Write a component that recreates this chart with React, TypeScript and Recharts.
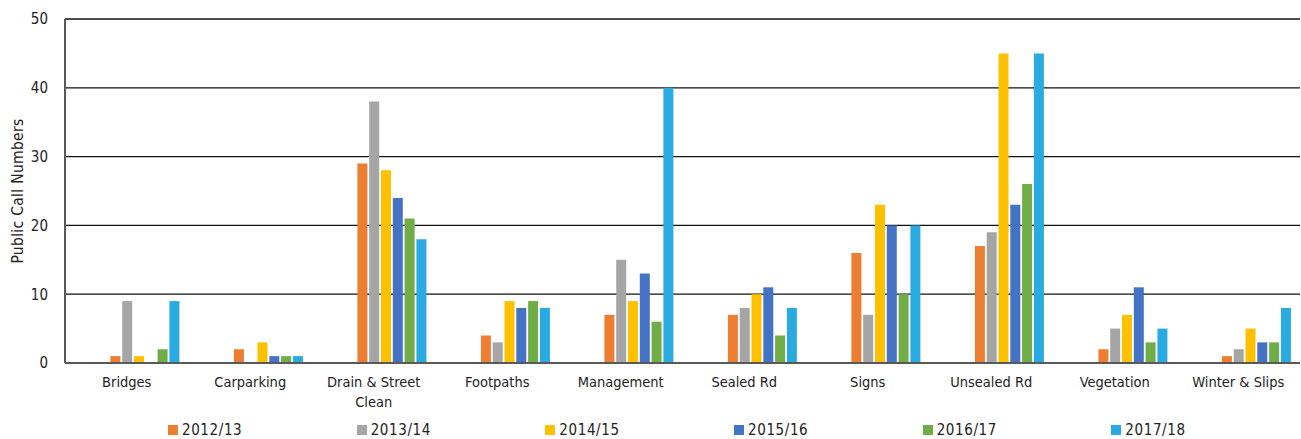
import { Bar, BarChart, CartesianGrid, Legend, XAxis, YAxis } from 'recharts'

const CATEGORIES = [
	'Bridges',
	'Carparking',
	'Drain & Street Clean',
	'Footpaths',
	'Management',
	'Sealed Rd',
	'Signs',
	'Unsealed Rd',
	'Vegetation',
	'Winter & Slips',
]

const Y2012 = [1, 2, 29, 4, 7, 7, 16, 17, 2, 1]
const Y2013 = [9, 0, 38, 3, 15, 8, 7, 19, 5, 2]
const Y2014 = [1, 3, 28, 9, 9, 10, 23, 45, 7, 5]
const Y2015 = [0, 1, 24, 8, 13, 11, 20, 23, 11, 3]
const Y2016 = [2, 1, 21, 9, 6, 4, 10, 26, 3, 3]
const Y2017 = [9, 1, 18, 8, 40, 8, 20, 45, 5, 8]

const Y_TICKS = [0, 10, 20, 30, 40, 50]

const SERIES = [
	{ key: '2012/13', values: Y2012, color: '#ED7D31' },
	{ key: '2013/14', values: Y2013, color: '#A5A5A5' },
	{ key: '2014/15', values: Y2014, color: '#FFC000' },
	{ key: '2015/16', values: Y2015, color: '#4472C4' },
	{ key: '2016/17', values: Y2016, color: '#70AD47' },
	{ key: '2017/18', values: Y2017, color: '#29ABE2' },
]

// the source sheet has three empty series in front, which push the groups right
const BLANKS = ['blank1', 'blank2', 'blank3']

const data = CATEGORIES.map((name, i) => {
	const row: Record<string, string | number | undefined> = { name }
	SERIES.forEach((s) => {
		// zero means no bar at all in the original
		row[s.key] = s.values[i] === 0 ? undefined : s.values[i]
	})
	return row
})

const FONT = '"DejaVu Sans Condensed", "DejaVu Sans", sans-serif'

const wrapLabel = (text: string, max: number) => {
	const lines: string[] = []
	let cur = ''
	text.split(' ').forEach((w) => {
		const next = cur ? `${cur} ${w}` : w
		if (next.length > max && cur) {
			lines.push(cur)
			cur = w
		} else {
			cur = next
		}
	})
	if (cur) lines.push(cur)
	return lines
}

const CategoryTick = (props: any) => {
	const { x, y, payload } = props
	const lines = wrapLabel(String(payload.value), 15)
	return (
		<text x={x} y={y} fill="#222" fontSize={14.5} textAnchor="middle">
			{lines.map((line, i) => (
				<tspan key={line} x={x} dy={i === 0 ? 16 : 20}>
					{line}
				</tspan>
			))}
		</text>
	)
}

const LegendContent = () => (
	<div
		style={{
			display: 'flex',
			height: 18,
			alignItems: 'center',
			paddingLeft: 168,
			fontFamily: FONT,
			fontSize: 15,
			color: '#222',
		}}
	>
		{SERIES.map((s) => (
			<div key={s.key} style={{ width: 191, display: 'flex', alignItems: 'center' }}>
				<span
					style={{
						width: 10,
						height: 10,
						background: s.color,
						marginRight: 4,
						display: 'inline-block',
					}}
				/>
				<span style={{ letterSpacing: 0.6 }}>{s.key}</span>
			</div>
		))}
	</div>
)

export default function App() {
	return (
		<div style={{ position: 'absolute', left: 0, top: 0, fontFamily: FONT }}>
			<BarChart
				data={data}
				height={439}
				margin={{ top: 19, right: 1, bottom: 0, left: 0 }}
				width={1301}
				barSize={10}
				barGap={1.8}
			>
				<CartesianGrid horizontal stroke="#111" strokeWidth={1.3} vertical={false} />
				<XAxis
					axisLine={{ stroke: '#595959', strokeWidth: 2 }}
					dataKey="name"
					height={58}
					interval={0}
					tick={<CategoryTick />}
					tickLine={false}
				/>
				<YAxis
					axisLine={{ stroke: '#595959', strokeWidth: 2 }}
					domain={[0, 50]}
					label={{
						value: 'Public Call Numbers',
						angle: -90,
						position: 'center',
						dx: -15,
						fill: '#222',
						fontSize: 15.5,
						letterSpacing: 0.3,
					}}
					tick={{ fill: '#222', fontSize: 15 }}
					tickLine={false}
					tickMargin={17}
					tickSize={0}
					ticks={Y_TICKS}
					width={65}
				/>
				{BLANKS.map((b) => (
					<Bar dataKey={b} fill="none" isAnimationActive={false} key={b} legendType="none" />
				))}
				{SERIES.map((s) => (
					<Bar dataKey={s.key} fill={s.color} isAnimationActive={false} key={s.key} />
				))}
				<Legend content={<LegendContent />} verticalAlign="bottom" />
			</BarChart>
		</div>
	)
}
